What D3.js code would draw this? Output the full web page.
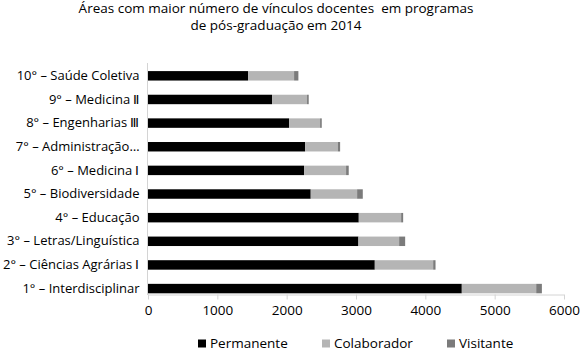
<!DOCTYPE html>
<html>
<head>
<meta charset="utf-8">
<script src="https://cdn.jsdelivr.net/npm/d3@7"></script>
<style>
  body { margin: 0; background: #fff; }
  text { font-family: 'Open Sans', sans-serif; fill: #000; }
</style>
</head>
<body>
<script>
const categories = [
  '10° – Saúde Coletiva',
  '9° – Medicina Ⅱ',
  '8° – Engenharias Ⅲ',
  '7° – Administração…',
  '6° – Medicina Ⅰ',
  '5° – Biodiversidade',
  '4° – Educação',
  '3° – Letras/Linguística',
  '2° – Ciências Agrárias Ⅰ',
  '1° – Interdisciplinar'
]
const permanente = [1443, 1789, 2035, 2266, 2251, 2347, 3040, 3035, 3271, 4526]
const colaborador = [664, 505, 447, 471, 606, 669, 611, 587, 842, 1073]
const visitante = [62, 24, 24, 34, 38, 82, 29, 87, 34, 82]
const seriesNames = ['Permanente', 'Colaborador', 'Visitante']
const xTicks = [0, 1000, 2000, 3000, 4000, 5000, 6000]
const titleLines = [
  'Áreas com maior número de vínculos docentes  em programas',
  'de pós-graduação em 2014'
]

const w = 580
const h = 350
const colors = ['#000000', '#b5b5b5', '#7b7b7b']

const rows = categories.map((c, i) => ({
  cat: c,
  Permanente: permanente[i],
  Colaborador: colaborador[i],
  Visitante: visitante[i]
}))

const stack = d3.stack().keys(seriesNames)(rows)

const xScale = d3.scaleLinear().domain([0, 6000]).range([148, 564])
const yScale = d3
  .scaleBand()
  .domain(categories)
  .range([64, 300.4])
  .paddingInner(0.6)
  .paddingOuter(0.3)

const svg = d3.select('body').append('svg').attr('width', w).attr('height', h)

// title
svg
  .selectAll('text.title')
  .data(titleLines)
  .enter()
  .append('text')
  .attr('class', 'title')
  .attr('x', 276)
  .attr('y', (d, i) => 13 + i * 16.5)
  .attr('text-anchor', 'middle')
  .style('font-size', '13.5px')
  .style('white-space', 'pre')
  .text((d) => d)

// bars
svg
  .selectAll('g.series')
  .data(stack)
  .enter()
  .append('g')
  .attr('fill', (d, i) => colors[i])
  .selectAll('rect')
  .data((d) => d)
  .enter()
  .append('rect')
  .attr('x', (d) => xScale(d[0]))
  .attr('y', (d) => yScale(d.data.cat))
  .attr('width', (d) => xScale(d[1]) - xScale(d[0]))
  .attr('height', yScale.bandwidth())

// x axis
const xAxis = d3.axisBottom(xScale).tickValues(xTicks).tickSize(5).tickPadding(6).tickFormat(d3.format('d'))
const gx = svg.append('g').attr('transform', 'translate(0,294.5)').call(xAxis)
gx.select('.domain').attr('stroke', '#d4d4d4').attr('d', 'M148,0.5H564')
gx.selectAll('.tick line').attr('stroke', '#d4d4d4')
gx.selectAll('.tick text').style('font-size', '13.5px').attr('fill', '#000')

// y axis
const yAxis = d3.axisLeft(yScale).tickSize(0).tickPadding(8)
const gy = svg.append('g').attr('transform', 'translate(147.5,0)').call(yAxis)
gy.select('.domain').attr('stroke', '#d4d4d4').attr('d', 'M0,63V295')
gy.selectAll('.tick text').style('font-size', '13px').attr('fill', '#000')

// legend
const legendX = [198, 322, 447]
const lg = svg
  .selectAll('g.legend')
  .data(seriesNames)
  .enter()
  .append('g')
  .attr('transform', (d, i) => `translate(${legendX[i]},343)`)
lg.append('rect')
  .attr('x', 0)
  .attr('y', -3.5)
  .attr('width', 8)
  .attr('height', 8)
  .attr('fill', (d, i) => colors[i])
lg.append('text')
  .attr('x', 12)
  .attr('y', 4.5)
  .style('font-size', '13.5px')
  .text((d) => d)
</script>
</body>
</html>
